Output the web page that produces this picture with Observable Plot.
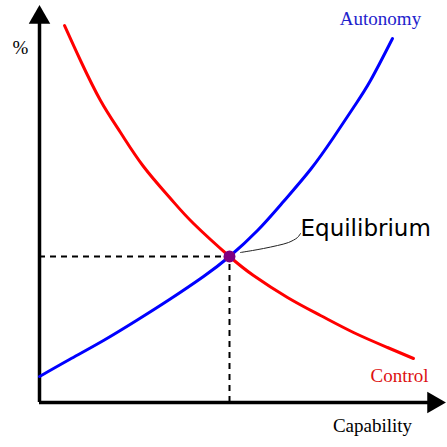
<!DOCTYPE html>
<html>
<head>
<meta charset="utf-8">
<script src="https://cdn.jsdelivr.net/npm/d3@7"></script>
<script src="https://cdn.jsdelivr.net/npm/@observablehq/plot@0.6"></script>
<style>
  html, body { margin: 0; padding: 0; background: #fff; }
</style>
</head>
<body>
<div id="chart"></div>
<script>
// Capability (x) and % (y) values
const autonomyX = [0, 30, 64, 97, 130, 164, 190, 218, 244, 271, 294, 314, 331, 353];
const autonomyY = [26, 43, 62, 82, 103, 126, 146, 172, 201, 233, 265, 295, 322, 364];
const controlX = [25, 41, 61, 81, 104, 131, 154, 190, 214, 248, 281, 314, 348, 374];
const controlY = [377, 342, 302, 270, 236, 204, 179, 146, 127, 105, 87, 70, 55, 44];
const equilibrium = {x: 190, y: 146};
const leaderX = [201, 213, 224, 238, 249, 258, 261];
const leaderY = [150, 152, 154, 157, 160, 165, 169];
const xMax = 403, yMax = 394;

const autonomy = autonomyX.map((x, i) => ({x, y: autonomyY[i]}));
const control = controlX.map((x, i) => ({x, y: controlY[i]}));
const leader = leaderX.map((x, i) => ({x, y: leaderY[i]}));

const serif = "Liberation Serif, Times New Roman, serif";

const chart = Plot.plot({
  width: 447,
  height: 447,
  marginLeft: 39,
  marginRight: 5,
  marginTop: 8,
  marginBottom: 45,
  x: {domain: [0, xMax], axis: null},
  y: {domain: [0, yMax], axis: null},
  marks: [
    // dashed guides
    Plot.ruleY([equilibrium], {x1: 0, x2: "x", y: "y", stroke: "black", strokeWidth: 2, strokeDasharray: "6,5"}),
    Plot.ruleX([equilibrium], {x: "x", y1: 0, y2: "y", stroke: "black", strokeWidth: 2, strokeDasharray: "6,5"}),
    // axes
    Plot.ruleX([0], {y1: 0, y2: yMax - 8, stroke: "black", strokeWidth: 3.5}),
    Plot.ruleY([0], {x1: 0, x2: xMax - 8, stroke: "black", strokeWidth: 3.5}),
    Plot.dot([{x: 0, y: yMax - 9}], {x: "x", y: "y", symbol: "triangle", r: 8, fill: "black", stroke: null}),
    Plot.dot([{x: xMax - 9, y: 0}], {x: "x", y: "y", symbol: "triangle", r: 8, fill: "black", stroke: null, rotate: 90}),
    // curves
    Plot.line(control, {x: "x", y: "y", stroke: "#ff0000", strokeWidth: 3, curve: "natural"}),
    Plot.line(autonomy, {x: "x", y: "y", stroke: "#0000ff", strokeWidth: 3, curve: "natural"}),
    Plot.line(leader, {x: "x", y: "y", stroke: "#222", strokeWidth: 1, curve: "catmull-rom"}),
    Plot.dot([equilibrium], {x: "x", y: "y", r: 6, fill: "#800080", stroke: null}),
    // labels
    Plot.text(["%"], {x: -19, y: 355, fontFamily: serif, fontSize: 19, fill: "black"}),
    Plot.text(["Autonomy"], {x: 341, y: 384, fontFamily: serif, fontSize: 19, fill: "#2222cc"}),
    Plot.text(["Control"], {x: 360, y: 27, fontFamily: serif, fontSize: 19, fill: "#dd1111"}),
    Plot.text(["Capability"], {x: 333, y: -23, fontFamily: serif, fontSize: 19, fill: "black"}),
    Plot.text(["Equilibrium"], {x: 261, y: 174, textAnchor: "start", fontFamily: "DejaVu Sans, sans-serif", fontSize: 23, fill: "black"})
  ]
});
document.getElementById("chart").appendChild(chart);
</script>
</body>
</html>
